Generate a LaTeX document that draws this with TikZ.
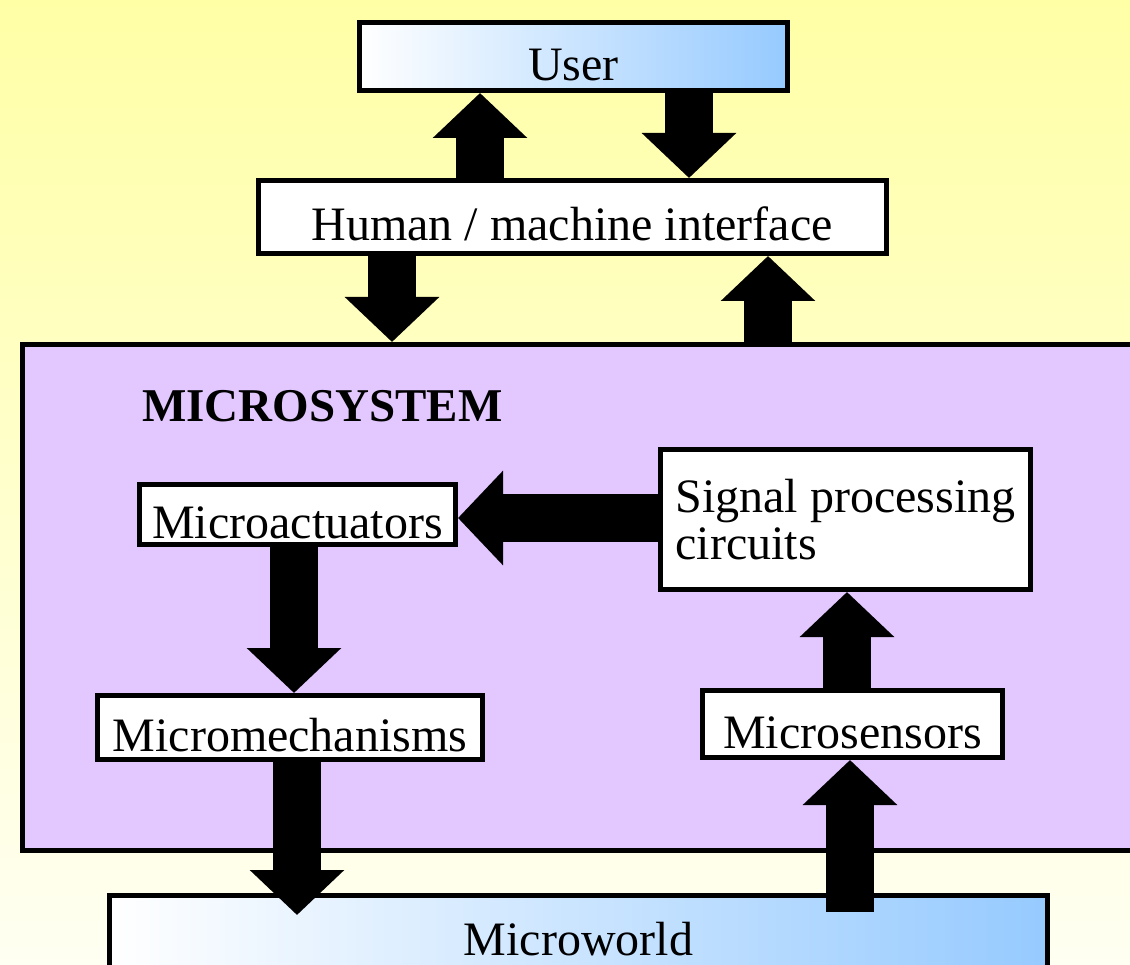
\documentclass[tikz,border=0pt]{standalone}
\usepackage{fontspec}
\setmainfont{Liberation Serif}
\usetikzlibrary{arrows.meta,
	calc,
	positioning,
	shapes}
\definecolor{bgtop}{RGB}{255,255,166}
\definecolor{bgbot}{RGB}{255,255,242}
\definecolor{lav}{RGB}{227,199,255}
\definecolor{sky}{RGB}{150,202,255}
\tikzstyle{blk}=[draw, line width=5pt, fill=white, inner sep=0]
\tikzstyle{txt}=[text height=48pt, text depth=0pt]
\tikzstyle{grad}=[blk, left color=white, right color=sky]
\tikzstyle{fat}=[line width=48pt, -{Triangle[length=45pt,width=92pt]}]

\begin{document}
\begin{tikzpicture}[x=1pt, y=-1pt, font=\fontsize{48}{47}\selectfont]
        \useasboundingbox (0,0) rectangle (1130,965);
        \fill[top color=bgtop, bottom color=bgbot] (0,0) rectangle (1130,965);
        \node[blk, fill=lav, minimum width=1115pt, minimum height=506pt] (msys) at (580,597.5) {};
        \node[font=\fontsize{47}{47}\selectfont\bfseries, anchor=base west, inner sep=0] (title) at (142,421) {MICROSYSTEM};
        \node[grad, txt, minimum width=428pt, minimum height=68pt] (user) at (573.5,56.5) {User};
        \node[blk, txt, minimum width=628pt, minimum height=73pt] (hmi) at (572,217) {Human / machine interface};
        \node[blk, txt, minimum width=316pt, minimum height=60pt] (mact) at (297.5,514.5) {Microactuators};
        \node[blk, minimum width=370pt, minimum height=140pt, align=left] (spc) at (845.5,519.5) {Signal processing\\circuits};
        \node[blk, txt, minimum width=385pt, minimum height=64pt] (mmech) at (290,727.5) {Micromechanisms};
        \node[blk, txt, minimum width=300pt, minimum height=67pt] (msens) at (852.5,724) {Microsensors};
        \node[grad, txt, minimum width=938pt, minimum height=72pt] (mworld) at (578.5,931.5) {Microworld};
        \coordinate (k1) at (480,0);
        \coordinate (k2) at (689,0);
        \coordinate (k3) at (392,0);
        \coordinate (k4) at (768,0);
        \coordinate (k5) at (0,518);
        \coordinate (k6) at (294,0);
        \coordinate (k7) at (847,0);
        \coordinate (wtip) at (297,915);
        \coordinate (wbase) at (850,912);
        \draw[fat] (hmi.north -| k1) -- (user.south -| k1);
        \draw[fat] (user.south -| k2) -- (hmi.north -| k2);
        \draw[fat] (hmi.south -| k3) -- (msys.north -| k3);
        \draw[fat] (msys.north -| k4) -- (hmi.south -| k4);
        \draw[fat] (spc.west |- k5) -- (mact.east |- k5);
        \draw[fat] (mact.south -| k6) -- (mmech.north -| k6);
        \draw[fat] (msens.north -| k7) -- (spc.south -| k7);
        \draw[fat] (mmech.south -| wtip) -- (wtip);
        \draw[fat] (wbase) -- (msens.south -| wbase);
    \end{tikzpicture}
\end{document}
